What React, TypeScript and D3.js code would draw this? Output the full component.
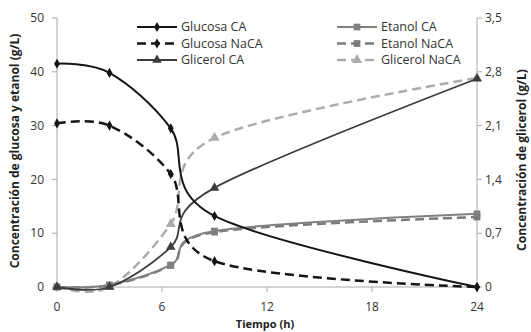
import * as d3 from "d3";

const times = [0, 3, 6.5, 9, 24];
const glucosaCA = [41.5, 39.8, 29.5, 13.2, 0];
const glucosaNaCA = [30.4, 30, 21, 4.8, 0];
const etanolCA = [0, 0.4, 4.1, 10.4, 13.6];
const etanolNaCA = [0, 0.3, 4.0, 10.2, 13.0];
const glicerolCA = [0, 0, 0.52, 1.29, 2.71];
const glicerolNaCA = [0, 0, 0.82, 1.94, 2.72];

const xTicks = [0, 6, 12, 18, 24];
const yTicks = [0, 10, 20, 30, 40, 50];
const y2Ticks = [0, 0.7, 1.4, 2.1, 2.8, 3.5];

const width = 531;
const height = 332;
const font = "'Open Sans', 'Liberation Sans', sans-serif";

const x = d3.scaleLinear().domain([0, 24]).range([57, 477]);
const y = d3.scaleLinear().domain([0, 50]).range([287, 18]);
const y2 = d3.scaleLinear().domain([0, 3.5]).range([287, 18]);

type Series = {
  name: string;
  values: number[];
  axis: "left" | "right";
  color: string;
  marker: d3.SymbolType;
  size: number;
  dash?: string;
  lw: number;
};

const series: Series[] = [
  { name: "Glicerol NaCA", values: glicerolNaCA, axis: "right", color: "#acacac", marker: d3.symbolTriangle, size: 45, dash: "9,5", lw: 2.5 },
  { name: "Etanol NaCA", values: etanolNaCA, axis: "left", color: "#7a7a7a", marker: d3.symbolSquare, size: 45, dash: "9,5", lw: 2.5 },
  { name: "Etanol CA", values: etanolCA, axis: "left", color: "#808080", marker: d3.symbolSquare, size: 45, lw: 2 },
  { name: "Glicerol CA", values: glicerolCA, axis: "right", color: "#3c3c3c", marker: d3.symbolTriangle, size: 40, lw: 1.8 },
  { name: "Glucosa NaCA", values: glucosaNaCA, axis: "left", color: "#151515", marker: d3.symbolDiamond, size: 30, dash: "9,5", lw: 2.5 },
  { name: "Glucosa CA", values: glucosaCA, axis: "left", color: "#151515", marker: d3.symbolDiamond, size: 30, lw: 2 },
];

const legendLeft = ["Glucosa CA", "Glucosa NaCA", "Glicerol CA"];
const legendRight = ["Etanol CA", "Etanol NaCA", "Glicerol NaCA"];

const line = d3.line<[number, number]>().curve(d3.curveCardinal.tension(0));
const fmt = (v: number) => String(v).replace(".", ",");

function LegendItem({ s, lx, ly }: { s: Series; lx: number; ly: number }) {
  return (
    <g>
      <line x1={lx} x2={lx + 40} y1={ly} y2={ly} stroke={s.color} strokeWidth={s.lw} strokeDasharray={s.dash} />
      <path d={d3.symbol(s.marker, s.size)()!} transform={`translate(${lx + 20},${ly})`} fill={s.color} />
      <text x={lx + 44} y={ly} dy="0.35em" fontSize={12.5} fill="#333" fontFamily={font}>{s.name}</text>
    </g>
  );
}

export default function App() {
  const byName = (n: string) => series.find((s) => s.name === n)!;
  return (
    <svg width={width} height={height} style={{ position: "absolute", left: 0, top: 0, background: "#fff" }}>
      {/* axes */}
      <g stroke="#a8a8a8" strokeWidth={1}>
        <line x1={x(0)} x2={x(0)} y1={y(50)} y2={y(0)} />
        <line x1={x(24)} x2={x(24)} y1={y(50)} y2={y(0)} />
        <line x1={x(0)} x2={x(24)} y1={y(0)} y2={y(0)} />
        {yTicks.map((t) => <line key={"l" + t} x1={x(0) - 5} x2={x(0)} y1={y(t)} y2={y(t)} />)}
        {y2Ticks.map((t) => <line key={"r" + t} x1={x(24)} x2={x(24) + 5} y1={y2(t)} y2={y2(t)} />)}
        {xTicks.map((t) => <line key={"b" + t} x1={x(t)} x2={x(t)} y1={y(0)} y2={y(0) + 5} />)}
      </g>
      <g fontFamily={font} fontSize={12} fill="#333">
        {yTicks.map((t) => (
          <text key={t} x={x(0) - 13} y={y(t)} dy="0.35em" textAnchor="end">{t}</text>
        ))}
        {y2Ticks.map((t) => (
          <text key={t} x={x(24) + 8} y={y2(t)} dy="0.35em">{fmt(t)}</text>
        ))}
        {xTicks.map((t) => (
          <text key={t} x={x(t)} y={307} dy="0.35em" textAnchor="middle">{t}</text>
        ))}
      </g>
      <g fontFamily={font} fontWeight="bold" fill="#222">
        <text x={265} y={324} dy="0.35em" textAnchor="middle" fontSize={11}>Tiempo (h)</text>
        <text transform="translate(15,151) rotate(-90)" dy="0.35em" textAnchor="middle" fontSize={12}>
          Concentración de glucosa y etanol (g/L)
        </text>
        <text transform="translate(522,160) rotate(-90)" dy="0.35em" textAnchor="middle" fontSize={12}>
          Concentración de glicerol (g/L)
        </text>
      </g>
      {/* series */}
      {series.map((s) => {
        const sc = s.axis === "left" ? y : y2;
        const pts = times.map((t, i) => [x(t), sc(s.values[i])] as [number, number]);
        return (
          <g key={s.name}>
            <path d={line(pts)!} fill="none" stroke={s.color} strokeWidth={s.lw} strokeDasharray={s.dash} />
            {pts.map((p, i) => (
              <path key={i} d={d3.symbol(s.marker, s.size)()!} transform={`translate(${p[0]},${p[1]})`} fill={s.color} />
            ))}
          </g>
        );
      })}
      {/* legend */}
      {legendLeft.map((n, i) => <LegendItem key={n} s={byName(n)} lx={137} ly={27 + i * 16.5} />)}
      {legendRight.map((n, i) => <LegendItem key={n} s={byName(n)} lx={337} ly={27 + i * 16.5} />)}
    </svg>
  );
}
